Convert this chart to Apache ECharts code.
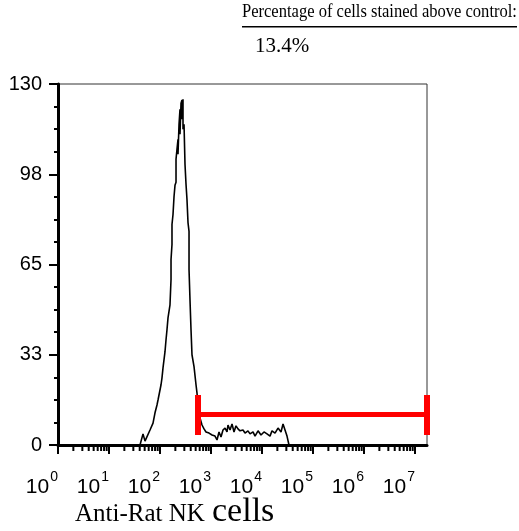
<!DOCTYPE html>
<html>
<head>
<meta charset="utf-8">
<script src="https://cdn.jsdelivr.net/npm/echarts@6/dist/echarts.min.js"></script>
<style>
html,body{margin:0;padding:0;background:#fff;}
#chart{width:519px;height:531px;}
</style>
</head>
<body>
<div id="chart"></div>
<script>
// Histogram: x in log10 of fluorescence intensity (decades), y = cell count
const logIntensity = [1.608,1.667,1.706,1.804,1.863,1.902,1.941,1.961,2.020,2.039,2.059,2.098,2.118,2.137,2.157,2.196,2.216,2.216,2.235,2.235,2.255,2.275,2.294,2.314,2.314,2.333,2.353,2.353,2.373,2.392,2.392,2.412,2.431,2.431,2.451,2.451,2.471,2.490,2.510,2.529,2.549,2.569,2.569,2.588,2.608,2.627,2.667,2.706,2.725,2.745,2.784,2.824,2.863,2.902,2.961,3.020,3.078,3.118,3.157,3.196,3.235,3.275,3.314,3.333,3.373,3.412,3.451,3.490,3.529,3.569,3.627,3.667,3.725,3.765,3.824,3.863,3.922,3.980,4.039,4.098,4.157,4.196,4.255,4.314,4.373,4.412,4.451,4.490,4.529];
const cellCount = [0,4.0,1.4,5.4,7.9,11.6,14.4,16.2,21.7,24.2,27.8,33.6,37.9,41.5,45.8,50.5,59.6,66.8,72.2,79.4,83.0,89.5,93.5,94.6,102.9,106.5,110.1,104.7,115.5,120.9,111.9,123.1,124.2,117.3,124.5,113.7,115.5,101.1,93.9,88.4,80.1,76.9,63.2,52.3,41.5,32.5,28.2,21.7,18.8,14.4,9.7,7.2,5.8,4.7,4.3,3.6,3.2,1.8,4.7,2.9,5.4,6.1,4.7,7.2,5.4,7.6,4.7,6.9,5.8,5.1,5.4,4.3,5.1,4.0,4.7,3.2,5.1,3.6,4.7,4.0,3.2,5.1,4.3,6.1,4.7,7.6,5.4,3.2,0];

// Gate (marker region) in decades and counts
const gateStart = 2.745;
const gateEnd = 7.235;
const gateLevel = 11.0;
const gateBarLow = 3.6;
const gateBarHigh = 18.0;

// Axes
const xMaxDecade = 7.235;
const xDecades = [0,1,2,3,4,5,6,7];
const minorFactors = [2,3,4,5,6,7,8,9];

const titleText = 'Percentage of cells stained above control:';
const percentText = '13.4%';
const xTitle = 'Anti-Rat NK';
const xTitle2 = 'cells';

const minorX = [];
xDecades.forEach(d => minorFactors.forEach(k => {
  const v = d + Math.log10(k);
  if (v < xMaxDecade) minorX.push(v);
}));

const chart = echarts.init(document.getElementById('chart'), null, {renderer:'canvas'});
chart.setOption({
  animation:false,
  backgroundColor:'#fff',
  grid:{left:58,right:92,top:84,bottom:86,show:true,borderColor:'#333',borderWidth:1},
  xAxis:{
    type:'value',min:0,max:xMaxDecade,interval:1,
    axisLine:{lineStyle:{color:'#000',width:3}},
    axisTick:{show:true,length:9,lineStyle:{color:'#000',width:2}},
    splitLine:{show:false},
    axisLabel:{
      showMaxLabel:false,
      align:'right',
      margin:25,
      formatter:v=>'{b|10}{s|'+Math.round(v)+'}',
      rich:{
        b:{fontFamily:'Liberation Sans',fontSize:21,color:'#000',lineHeight:28,verticalAlign:'bottom'},
        s:{fontFamily:'Liberation Sans',fontSize:14,color:'#000',lineHeight:28,verticalAlign:'top',padding:[0,0,0,1]}
      }
    }
  },
  yAxis:{
    type:'value',min:0,max:130,interval:32.5,
    axisLine:{lineStyle:{color:'#000',width:3}},
    axisTick:{show:true,length:9,lineStyle:{color:'#000',width:2}},
    minorTick:{show:true,splitNumber:4,length:4,lineStyle:{color:'#000',width:2}},
    splitLine:{show:false},
    axisLabel:{
      margin:16,fontFamily:'Liberation Sans',fontSize:20,color:'#000',
      formatter:v=>String(Math.round(v))
    }
  },
  graphic:[
    {type:'text',x:242,y:3,scaleX:0.87,style:{text:titleText,fontFamily:'Liberation Serif',fontSize:19,fill:'#000'}},
    {type:'rect',shape:{x:242,y:26,width:275,height:1.5},style:{fill:'#000'}},
    {type:'text',x:255,y:36,style:{text:percentText,fontFamily:'Liberation Serif',fontSize:21,fill:'#000'}},
    {type:'text',x:75,y:502,style:{text:xTitle,fontFamily:'Liberation Serif',fontSize:25,fill:'#000'}},
    {type:'text',x:212,y:495,style:{text:xTitle2,fontFamily:'Liberation Serif',fontSize:34,fill:'#000'}}
  ],
  series:[
    {
      type:'custom',
      clip:false,
      silent:true,
      data:minorX.map(v=>[v,0]),
      renderItem:(params,api)=>{
        const p = api.coord([api.value(0),0]);
        return {type:'line',shape:{x1:p[0],y1:p[1]+1,x2:p[0],y2:p[1]+6},style:{stroke:'#000',lineWidth:2}};
      },
      z:3
    },
    {
      type:'line',
      data:logIntensity.map((x,i)=>[x,cellCount[i]]),
      showSymbol:false,
      lineStyle:{color:'#000',width:1.6},
      z:4
    },
    {
      type:'line',clip:false,
      data:[[gateStart,gateLevel],[gateEnd,gateLevel]],
      showSymbol:false,lineStyle:{color:'#ff0000',width:5},z:5
    },
    {
      type:'line',clip:false,
      data:[[gateStart,gateBarLow],[gateStart,gateBarHigh]],
      showSymbol:false,lineStyle:{color:'#ff0000',width:6},z:5
    },
    {
      type:'line',clip:false,
      data:[[gateEnd,gateBarLow],[gateEnd,gateBarHigh]],
      showSymbol:false,lineStyle:{color:'#ff0000',width:6},z:5
    }
  ]
});
</script>
</body>
</html>
